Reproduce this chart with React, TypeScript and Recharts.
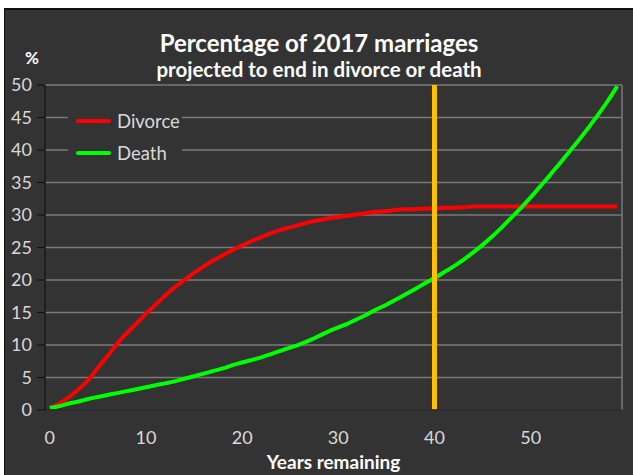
import { LineChart, Line, XAxis, YAxis, CartesianGrid, ReferenceLine } from 'recharts'

const years = [
  0, 1, 2, 3, 4, 5, 6, 7, 8, 9, 10, 11, 12, 13, 14, 15, 16, 17, 18, 19,
  20, 21, 22, 23, 24, 25, 26, 27, 28, 29, 30, 31, 32, 33, 34, 35, 36, 37, 38, 39,
  40, 41, 42, 43, 44, 45, 46, 47, 48, 49, 50, 51, 52, 53, 54, 55, 56, 57, 58, 59,
]

const divorce = [
  0.3, 1.0, 2.0, 3.2, 4.6, 6.5, 8.3, 10.2, 11.8, 13.3, 14.8, 16.2, 17.6, 18.9, 20.0, 21.1, 22.1, 23.0, 23.8, 24.6,
  25.3, 26.0, 26.6, 27.2, 27.7, 28.1, 28.5, 28.9, 29.2, 29.5, 29.7, 29.9, 30.1, 30.3, 30.5, 30.6, 30.8, 30.9, 30.9, 31.0,
  31.0, 31.1, 31.1, 31.2, 31.3, 31.3, 31.3, 31.3, 31.3, 31.3, 31.3, 31.3, 31.3, 31.3, 31.3, 31.3, 31.3, 31.3, 31.3, 31.3,
]

const death = [
  0.3, 0.6, 1.0, 1.3, 1.7, 2.0, 2.3, 2.6, 2.9, 3.2, 3.5, 3.8, 4.1, 4.4, 4.8, 5.2, 5.6, 6.0, 6.4, 6.9,
  7.3, 7.7, 8.1, 8.6, 9.1, 9.6, 10.1, 10.7, 11.4, 12.1, 12.7, 13.3, 14.0, 14.7, 15.5, 16.2, 17.0, 17.8, 18.6, 19.5,
  20.3, 21.2, 22.1, 23.1, 24.2, 25.4, 26.7, 28.1, 29.6, 31.1, 32.7, 34.4, 36.1, 37.9, 39.7, 41.5, 43.4, 45.4, 47.5, 49.8,
]

const xLabels = [0, 10, 20, 30, 40, 50]
const yTicks = [0, 5, 10, 15, 20, 25, 30, 35, 40, 45, 50]
const markerYear = 40

const data = years.map((y, i) => ({ year: y, divorce: divorce[i], death: death[i] }))
// tick marks sit between the years, like Excel's category axis
const boundaries = [...years.map((y) => y - 0.5), years[years.length - 1] + 0.5]

const font = 'Lato, "Open Sans", sans-serif'
const txt = '#d9d9d9'

export default function App() {
  return (
    <div style={{ position: 'absolute', left: 0, top: 0, width: 633, height: 475, background: '#fff', fontFamily: font }}>
      <div style={{ position: 'absolute', left: 4, top: 8, width: 628, height: 465, background: '#333333', borderTop: '2px solid #111', borderLeft: '1px solid #111' }}>
        <div style={{ position: 'absolute', left: 0, width: 628, top: 18, textAlign: 'center', color: '#fff', fontWeight: 700, fontSize: 24, lineHeight: '30px' }}>
          Percentage of 2017 marriages
        </div>
        <div style={{ position: 'absolute', left: 0, width: 628, top: 47, textAlign: 'center', color: '#fff', fontWeight: 700, fontSize: 20.5, lineHeight: '24px' }}>
          projected to end in divorce or death
        </div>
        <div style={{ position: 'absolute', left: 20, top: 37, color: '#fff', fontWeight: 700, fontSize: 17 }}>%</div>
        <div style={{ position: 'absolute', left: 40, width: 577, top: 441, textAlign: 'center', color: '#fff', fontWeight: 700, fontSize: 19, lineHeight: '22px' }}>
          Years remaining
        </div>

        <LineChart width={628} height={465} data={data} margin={{ top: 75, right: 11, left: 0, bottom: 35 }}>
          <CartesianGrid vertical={false} stroke="#7a7a7a" strokeWidth={1.5} />
          <XAxis xAxisId="m" dataKey="year" type="number" domain={[-0.5, 59.5]} ticks={boundaries} height={0} axisLine={false}
            tickLine={{ stroke: '#111' }} tickSize={6} tick={() => <g />} interval={0} />
          <XAxis dataKey="year" type="number" domain={[-0.5, 59.5]} ticks={xLabels} height={30} tickLine={false} tickSize={0} tickMargin={21}
            axisLine={{ stroke: '#1a1a1a', strokeWidth: 1.5 }} tick={{ fill: txt, fontSize: 18, fontFamily: font }} interval={0} />
          <YAxis domain={[0, 50]} ticks={yTicks} width={40} interval={0} tickSize={8} tickMargin={5}
            axisLine={{ stroke: '#1a1a1a', strokeWidth: 1.5 }} tickLine={{ stroke: '#111' }} tick={{ fill: txt, fontSize: 18, fontFamily: font }} />
          <ReferenceLine x={59.5} stroke="#7a7a7a" strokeWidth={1.5} />
          <Line dataKey="divorce" type="monotone" stroke="#ff0000" strokeWidth={4} dot={false} isAnimationActive={false} />
          <Line dataKey="death" type="monotone" stroke="#00ff00" strokeWidth={4} dot={false} isAnimationActive={false} />
          <ReferenceLine x={markerYear} stroke="#ffc000" strokeWidth={5} />
        </LineChart>

        <div style={{ position: 'absolute', left: 63, top: 95, width: 114, height: 62, background: '#333333' }}>
          {[{ name: 'Divorce', color: '#ff0000' }, { name: 'Death', color: '#00ff00' }].map((s, i) => (
            <div key={s.name} style={{ position: 'absolute', left: 8, top: 5 + i * 32, display: 'flex', alignItems: 'center', height: 22 }}>
              <div style={{ width: 35, height: 4, background: s.color, borderRadius: 2 }} />
              <span style={{ marginLeft: 6, color: txt, fontSize: 18.5 }}>{s.name}</span>
            </div>
          ))}
        </div>
      </div>
    </div>
  )
}
